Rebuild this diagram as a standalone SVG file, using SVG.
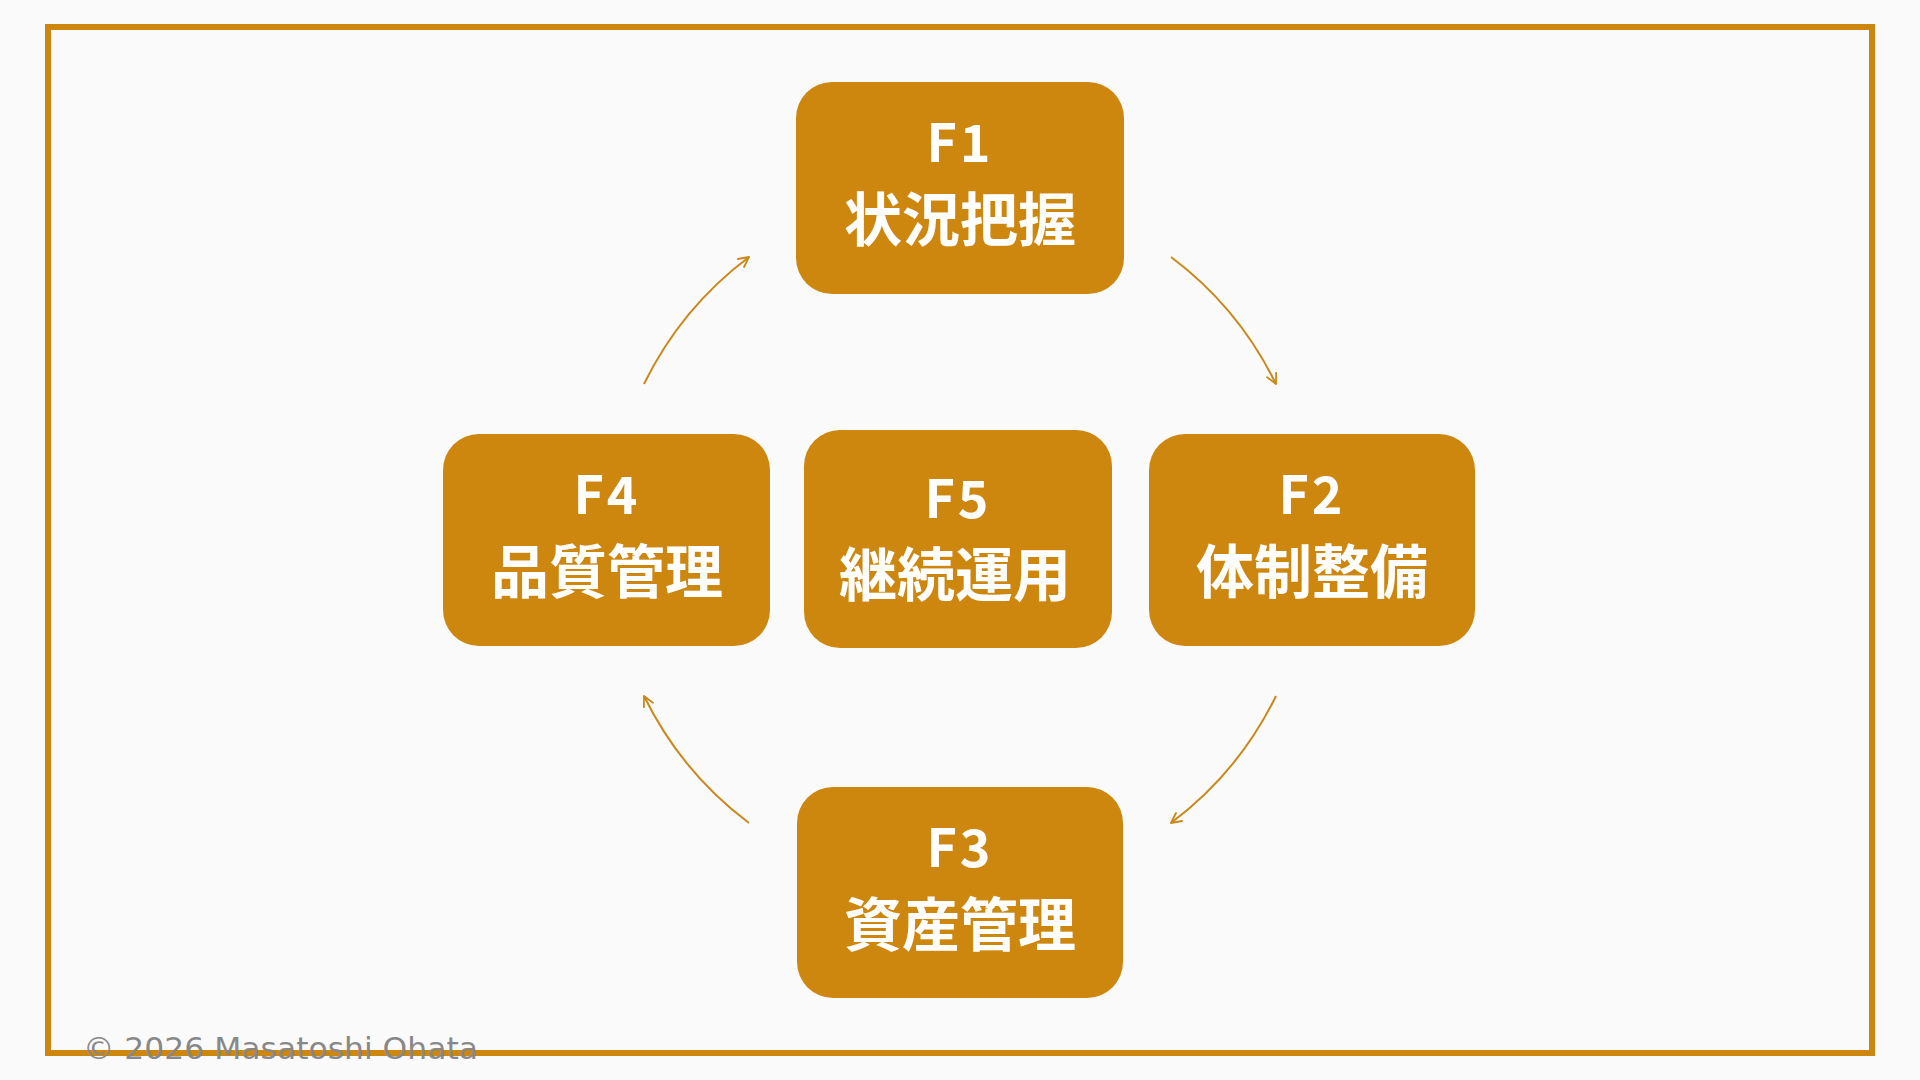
<svg xmlns="http://www.w3.org/2000/svg" width="1920" height="1080" viewBox="0 0 1920 1080">
  <defs>
    <style>
      .node rect { fill: #CD870F; }
      .lbl { fill: #FFFFFF; font-family: "Noto Sans CJK JP", "Noto Sans", sans-serif; font-weight: 700; text-anchor: middle; }
      .code { font-size: 52px; letter-spacing: 3px; }
      .name { font-size: 58px; }
      .conn { fill: none; stroke: #C8891A; stroke-width: 2; marker-end: url(#arr); }
      .copy { fill: #888888; font-family: "DejaVu Sans", "Noto Sans", sans-serif; font-size: 30px; }
    </style>
    <marker id="arr" viewBox="0 0 12 12" refX="11" refY="6" markerWidth="12" markerHeight="12" markerUnits="userSpaceOnUse" orient="auto">
      <path d="M1,1 L11,6 L1,11" fill="none" stroke="#C8891A" stroke-width="1.8" stroke-linecap="round" stroke-linejoin="round"/>
    </marker>
  </defs>
  <rect x="0" y="0" width="1920" height="1080" fill="#FAFAFA"/>
  <rect x="48" y="27" width="1824" height="1026" fill="none" stroke="#CD870F" stroke-width="6"/>

  <g id="connectors">
    <path class="conn" d="M 644 384 A 353 353 0 0 1 749 257"/>
    <path class="conn" d="M 1171 257 A 353 353 0 0 1 1276 384"/>
    <path class="conn" d="M 1276 696 A 353 353 0 0 1 1171 823"/>
    <path class="conn" d="M 749 823 A 353 353 0 0 1 644 696"/>
  </g>

  <g id="F1" class="node">
    <rect x="796" y="82" width="328" height="212" rx="36"/>
    <text class="lbl code" x="960" y="162">F1</text>
    <text class="lbl name" x="960" y="241">状況把握</text>
  </g>
  <g id="F2" class="node">
    <rect x="1149" y="434" width="326" height="212" rx="36"/>
    <text class="lbl code" x="1312" y="514">F2</text>
    <text class="lbl name" x="1312" y="593">体制整備</text>
  </g>
  <g id="F3" class="node">
    <rect x="797" y="787" width="326" height="211" rx="36"/>
    <text class="lbl code" x="960" y="867">F3</text>
    <text class="lbl name" x="960" y="946">資産管理</text>
  </g>
  <g id="F4" class="node">
    <rect x="443" y="434" width="327" height="212" rx="36"/>
    <text class="lbl code" x="607" y="514">F4</text>
    <text class="lbl name" x="607" y="593">品質管理</text>
  </g>
  <g id="F5" class="node">
    <rect x="804" y="430" width="308" height="218" rx="36"/>
    <text class="lbl code" x="958" y="518">F5</text>
    <text class="lbl name" x="955" y="596">継続運用</text>
  </g>

  <text class="copy" x="83" y="1059" textLength="395" lengthAdjust="spacingAndGlyphs">© 2026 Masatoshi Ohata</text>
</svg>
